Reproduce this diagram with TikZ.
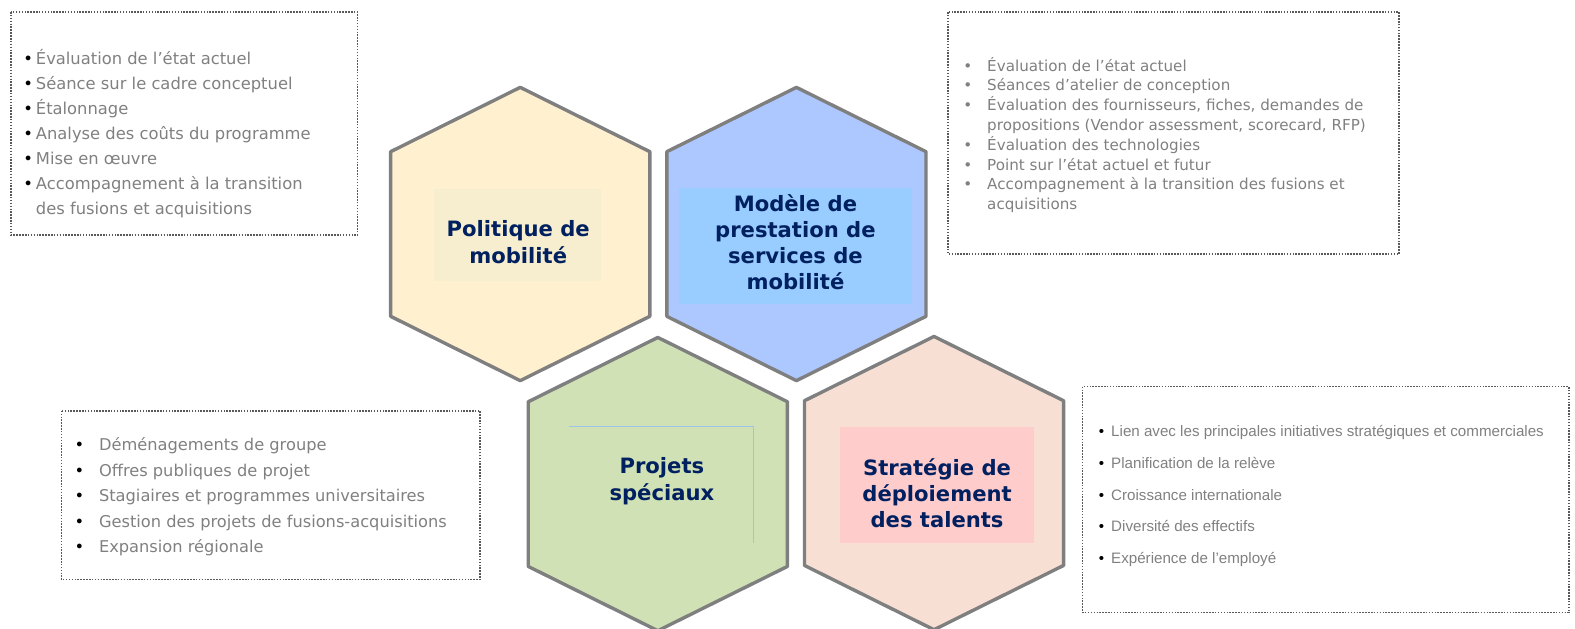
\documentclass[tikz,border=0pt]{standalone}
\usepackage{fontspec}
\setmainfont{DejaVu Sans}
\newfontfamily\narrowfont{Liberation Sans}

\definecolor{hexgrey}{HTML}{7F7F7F}
\definecolor{polfill}{HTML}{FFF0CF}
\definecolor{polbox}{HTML}{F7EECF}
\definecolor{modfill}{HTML}{ADC8FF}
\definecolor{modbox}{HTML}{99CCFF}
\definecolor{projfill}{HTML}{D0E2B5}
\definecolor{projline}{HTML}{9DC3E6}
\definecolor{stratfill}{HTML}{F8DFD4}
\definecolor{stratbox}{HTML}{FFCCCC}
\definecolor{titlenavy}{HTML}{002060}
\definecolor{listgrey}{HTML}{808080}
\definecolor{dotgrey}{HTML}{595959}

\tikzset{
  hexline/.style={draw=hexgrey, line width=3.4pt, line join=round},
  dotbox/.style={draw=dotgrey, line width=1.5pt, dash pattern=on 1.5pt off 1.4pt},
  hextitle/.style={text=titlenavy, font=\bfseries\fontsize{21.2}{26.3}\selectfont, align=center, inner sep=0pt},
  listtext/.style={text=listgrey, anchor=base west, inner sep=0pt}
}

\newcommand\hexcell[3]{\draw[hexline, fill=#3] (#1,#2) ++(-129,-82) -- ++(129,-64) -- ++(129,64) -- ++(0,164) -- ++(-129,64) -- ++(-129,-64) -- cycle;}
\newcommand\blt{{\color{black}\textbullet}}

\begin{document}
\begin{tikzpicture}[x=1.0043bp,y=-1.0043bp]
  \useasboundingbox (0,0) rectangle (1568.2,625.3);
  \hexcell{518}{233}{polfill}
  \hexcell{793}{233}{modfill}
  \hexcell{655}{482}{projfill}
  \hexcell{930}{481}{stratfill}
  \fill[polbox] (432,188) rectangle (598,280);
  \fill[modbox] (676,187) rectangle (908,303);
  \draw[projline, line width=0.8pt] (567,425) -- (750,425) -- (750,541);
  \fill[stratbox] (836,425) rectangle (1030,541);
  \node[hextitle] (polmob) at (516,241) {Politique de\\mobilité};
  \node[hextitle] (modele) at (792,241) {Modèle de\\prestation de\\services de\\mobilité};
  \node[hextitle] (projets) at (659,479) {Projets\\spéciaux};
  \node[hextitle] (strat) at (933,491) {Stratégie de\\déploiement\\des talents};
  \draw[dotbox] (11,12) rectangle (356,234);
  \draw[dotbox] (944,12) rectangle (1393,253);
  \draw[dotbox] (61,409) rectangle (478,577);
  \draw[dotbox] (1078,385) rectangle (1562,610);
  \node[listtext, font=\fontsize{16.4}{25.2}\selectfont] (polliste) at (23,64) {\begin{tabular}[t]{@{}l@{\hspace{3pt}}l@{}}
    \blt & Évaluation de l’état actuel\\
    \blt & Séance sur le cadre conceptuel\\
    \blt & Étalonnage\\
    \blt & Analyse des coûts du programme\\
    \blt & Mise en œuvre\\
    \blt & Accompagnement à la transition\\
         & des fusions et acquisitions
  \end{tabular}};
  \node[listtext, font=\fontsize{15.2}{19.7}\selectfont] (modliste) at (959,71) {\begin{tabular}[t]{@{}l@{\hspace{15pt}}l@{}}
    \textbullet & Évaluation de l’état actuel\\
    \textbullet & Séances d’atelier de conception\\
    \textbullet & Évaluation des fournisseurs, fiches, demandes de\\
                & propositions (Vendor assessment, scorecard, RFP)\\
    \textbullet & Évaluation des technologies\\
    \textbullet & Point sur l’état actuel et futur\\
    \textbullet & Accompagnement à la transition des fusions et\\
                & acquisitions
  \end{tabular}};
  \node[listtext, font=\fontsize{16.3}{25.5}\selectfont] (projliste) at (74,449) {\begin{tabular}[t]{@{}l@{\hspace{15pt}}l@{}}
    \blt & Déménagements de groupe\\
    \blt & Offres publiques de projet\\
    \blt & Stagiaires et programmes universitaires\\
    \blt & Gestion des projets de fusions-acquisitions\\
    \blt & Expansion régionale
  \end{tabular}};
  \node[listtext, font=\narrowfont\fontsize{15.2}{31.8}\selectfont] (stratliste) at (1094,435) {\begin{tabular}[t]{@{}l@{\hspace{7pt}}l@{}}
    \blt & Lien avec les principales initiatives stratégiques et commerciales\\
    \blt & Planification de la relève\\
    \blt & Croissance internationale\\
    \blt & Diversité des effectifs\\
    \blt & Expérience de l’employé
  \end{tabular}};
\end{tikzpicture}
\end{document}
